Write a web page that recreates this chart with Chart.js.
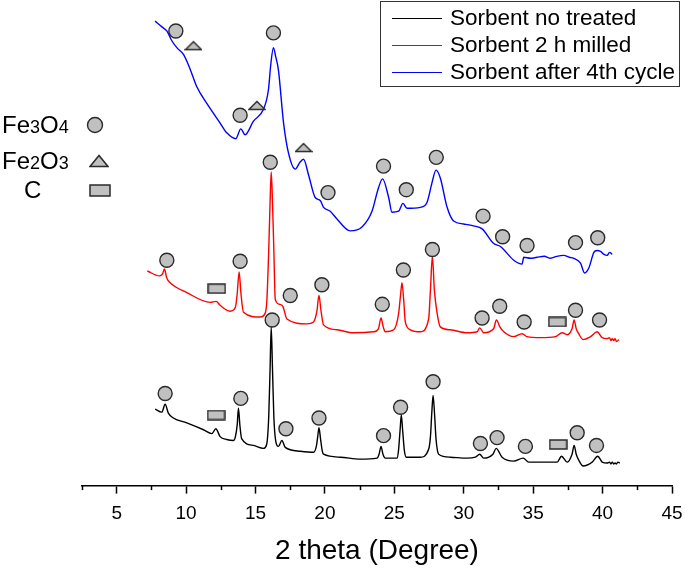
<!DOCTYPE html>
<html>
<head>
<meta charset="utf-8">
<script src="https://cdn.jsdelivr.net/npm/chart.js@4.4.1/dist/chart.umd.min.js"></script>
<style>
  body { margin: 0; background: #fff; font-family: "Liberation Sans", Arial, sans-serif; overflow: hidden; }
  #wrap { position: relative; width: 685px; height: 570px; }
  #xrd { display: block; }
  #legend {
    position: absolute; left: 380px; top: 1px; width: 300px; height: 86px;
    border: 1px solid #333; box-sizing: border-box;
  }
  #legend .row { position: absolute; left: 0; height: 26px; line-height: 26px; font-size: 22.5px; color: #000; white-space: nowrap; }
  #legend .row span.ln { position: absolute; left: 11px; top: 13px; width: 50px; height: 1px; }
  #legend .row span.tx { position: absolute; left: 69px; top: 0; }
  #phases { position: absolute; left: 2px; top: 108px; }
  #phases .ph { position: absolute; left: 0; white-space: nowrap; font-size: 24px; color: #000; height: 30px; line-height: 30px; }
  #phases .ph small { font-size: 18px; }
</style>
</head>
<body>
<div id="wrap">
  <canvas id="xrd" width="685" height="570"></canvas>
  <div id="legend">
    <div class="row" style="top:3px"><span class="ln" style="background:#000"></span><span class="tx">Sorbent no treated</span></div>
    <div class="row" style="top:30px"><span class="ln" style="background:#ff0000"></span><span class="tx">Sorbent 2 h milled</span></div>
    <div class="row" style="top:57px"><span class="ln" style="background:#0000ff"></span><span class="tx">Sorbent after 4th cycle</span></div>
  </div>
  <div id="phases">
    <div class="ph" style="top:2px">Fe<small>3</small>O<small>4</small></div>
    <div class="ph" style="top:38px">Fe<small>2</small>O<small>3</small></div>
    <div class="ph" style="top:67px; left:22px">C</div>
    <canvas id="keyCircle" width="18" height="18" style="position:absolute;left:84px;top:8px"></canvas>
    <canvas id="keyTri" width="20" height="14" style="position:absolute;left:87px;top:46px"></canvas>
    <canvas id="keyRect" width="22" height="13" style="position:absolute;left:87px;top:76px"></canvas>
  </div>
</div>
<script>
// 2 theta (deg) and intensity (a.u., curves stacked with an offset)
const untreatedTheta = [7.77, 8.25, 8.49, 8.72, 9.08, 10.05, 11.25, 11.85, 12.14, 12.45, 12.93, 13.41, 13.55, 13.68, 13.77, 13.87, 14.0, 14.85, 15.57, 15.80, 15.95, 16.05, 16.13, 16.22, 16.32, 16.45, 16.65, 16.90, 17.14, 18.22, 19.18, 19.38, 19.48, 19.57, 19.68, 19.80, 19.90, 21.10, 22.55, 23.75, 23.9, 24.04, 24.18, 24.35, 25.19, 25.3, 25.42, 25.50, 25.60, 25.72, 25.86, 26.87, 27.47, 27.6, 27.7, 27.79, 27.9, 28.0, 28.19, 29.03, 30.24, 30.84, 31.15, 31.43, 32.1, 32.33, 32.76, 33.60, 34.28, 34.68, 35.76, 36.73, 37.04, 37.45, 37.8, 37.95, 38.1, 38.28, 38.60, 39.25, 39.65, 39.97, 40.33, 40.5, 40.6, 40.7, 40.8, 40.9, 41.0, 41.1, 41.24];
const untreatedI = [78, 75, 83, 74, 69, 64, 57, 53, 58, 50, 47, 46, 50, 62, 79, 62, 48, 41, 38, 42, 70, 120, 162, 120, 70, 46, 40, 46, 39, 35, 34, 40, 50, 59, 48, 36, 32, 29, 27, 28, 32, 40, 32, 28, 28, 36, 58, 72, 56, 36, 29, 29, 37, 50, 75, 92, 72, 48, 32, 29, 28, 29, 32, 28, 32, 38, 29, 25, 28, 24, 24, 24, 30, 24, 32, 41, 32, 26, 20, 24, 30, 24, 23, 24, 22, 24, 22, 23, 22, 24, 23];

const milledTheta = [7.21, 8.07, 8.3, 8.44, 8.6, 8.85, 10.05, 11.73, 12.16, 12.45, 13.17, 13.55, 13.68, 13.82, 13.95, 14.13, 15.34, 15.70, 15.82, 15.95, 16.05, 16.13, 16.22, 16.32, 16.42, 16.73, 16.97, 17.26, 18.70, 19.18, 19.42, 19.57, 19.72, 19.90, 20.87, 22.06, 23.50, 23.85, 24.04, 24.2, 24.35, 24.95, 25.3, 25.45, 25.55, 25.67, 25.79, 26.15, 26.87, 27.47, 27.6, 27.74, 27.88, 28.07, 28.31, 29.03, 30.24, 30.96, 31.15, 31.43, 32.15, 32.35, 32.6, 32.88, 33.60, 34.20, 34.56, 35.52, 36.60, 37.09, 37.45, 37.8, 37.95, 38.1, 38.28, 38.60, 39.13, 39.61, 39.97, 40.33, 40.5, 40.6, 40.7, 40.8, 40.9, 41.0, 41.17];
const milledI = [219, 214, 216, 221, 212, 207, 197, 187, 188, 184, 178, 182, 196, 218, 196, 177, 172, 176, 190, 240, 290, 320, 290, 240, 190, 185, 183, 170, 165, 167, 178, 194, 178, 164, 159, 156, 157, 160, 171, 162, 157, 159, 175, 195, 207, 190, 167, 159, 157, 170, 200, 234, 200, 177, 162, 159, 156, 157, 161, 156, 160, 169, 162, 157, 152, 155, 152, 151, 152, 156, 154, 160, 169, 160, 155, 149, 152, 157, 151, 150, 151, 148, 150, 148, 150, 147, 149];

const cycledTheta = [7.77, 8.10, 8.36, 8.61, 8.97, 9.33, 9.81, 10.29, 10.77, 11.49, 12.45, 12.93, 13.58, 13.94, 14.25, 14.85, 15.57, 15.93, 16.10, 16.29, 16.45, 16.65, 17.02, 17.38, 17.86, 18.20, 18.46, 18.82, 19.30, 19.66, 19.90, 20.38, 20.87, 21.82, 22.67, 23.39, 23.86, 24.15, 24.59, 24.83, 25.31, 25.62, 25.91, 26.87, 27.35, 27.71, 28.00, 28.31, 28.80, 29.27, 29.99, 30.71, 31.32, 32.16, 32.64, 33.60, 34.20, 34.32, 34.8, 35.28, 35.8, 36.25, 36.7, 37.20, 37.6, 37.92, 38.41, 38.70, 39.01, 39.37, 39.6, 39.85, 40.1, 40.33, 40.5, 40.69];
const cycledI = [474, 470, 467, 464, 454, 447, 440, 425, 407, 390, 370, 360, 354, 364, 358, 372, 384, 404, 430, 447, 438, 424, 370, 339, 323, 330, 333, 317, 294, 291, 284, 280, 272, 260, 264, 280, 304, 313, 294, 279, 280, 288, 283, 284, 289, 309, 322, 314, 284, 270, 267, 265, 262, 247, 244, 230, 226, 233, 232, 233, 234, 232, 234, 235, 233, 232, 227, 217, 222, 238, 240, 239, 236, 235, 238, 236];

// phase marks placed above the peaks
const fe3o4Theta = [8.49, 13.94, 16.20, 17.19, 19.57, 24.22, 25.45, 27.79, 31.20, 32.40, 34.44, 38.17, 39.56,
  8.61, 13.89, 16.06, 17.50, 19.78, 24.13, 25.65, 27.74, 31.32, 32.59, 34.35, 38.05, 39.78,
  9.26, 13.89, 16.29, 20.22, 24.22, 25.86, 28.02, 31.39, 32.80, 34.56, 38.05, 39.65];
const fe3o4Level = [94, 89, 169, 58, 69, 51, 80, 106, 43, 49, 40, 54, 41,
  230, 229, 330, 194, 205, 185, 220, 241, 171, 183, 167, 179, 169,
  464, 378, 462, 299, 326, 302, 335, 275, 254, 245, 248, 253];
const fe2o3Theta = [10.53, 15.10, 18.46];
const fe2o3Level = [449, 388, 345];
const carbonTheta = [12.16, 36.80, 12.21, 36.73];
const carbonLevel = [72, 42, 201, 167];

const xTicks = [5, 10, 15, 20, 25, 30, 35, 40, 45];
const xMinorTicks = [2.5, 7.5, 12.5, 17.5, 22.5, 27.5, 32.5, 37.5, 42.5];

const markFill = '#c0c0c0';
const markEdge = '#2a2a2a';

const zip = (xs, ys) => xs.map((x, i) => ({ x: x, y: ys[i] }));

const makeTriangle = (c) => {
  const g = c.getContext('2d');
  g.beginPath();
  g.moveTo(1, c.height - 1.5);
  g.lineTo(c.width / 2, 1.5);
  g.lineTo(c.width - 1, c.height - 1.5);
  g.closePath();
  g.fillStyle = markFill; g.fill();
  g.lineWidth = 1.5; g.strokeStyle = markEdge; g.stroke();
  return c;
};
const makeRect = (c) => {
  const g = c.getContext('2d');
  g.fillStyle = markFill;
  g.fillRect(1, 1, c.width - 2, c.height - 2);
  g.lineWidth = 1.5; g.strokeStyle = markEdge;
  g.strokeRect(1, 1, c.width - 2, c.height - 2);
  return c;
};
const makeCircle = (c) => {
  const g = c.getContext('2d');
  g.beginPath();
  g.arc(c.width / 2, c.height / 2, c.width / 2 - 1.5, 0, Math.PI * 2);
  g.fillStyle = markFill; g.fill();
  g.lineWidth = 1.4; g.strokeStyle = markEdge; g.stroke();
  return c;
};

const newCanvas = (w, h) => { const c = document.createElement('canvas'); c.width = w; c.height = h; return c; };
const triStyle = makeTriangle(newCanvas(18, 11));
const rectStyle = makeRect(newCanvas(19, 11));

// key icons on the left
makeCircle(document.getElementById('keyCircle'));
makeTriangle(document.getElementById('keyTri'));
makeRect(document.getElementById('keyRect'));

const curve = (label, data, color) => ({
  type: 'line', label: label, data: data, borderColor: color, borderWidth: 1.4,
  pointRadius: 0, cubicInterpolationMode: 'monotone', fill: false, order: 2
});

// short minor ticks between the labelled ones
const minorTicks = {
  id: 'minorTicks',
  afterDraw(chart) {
    const sx = chart.scales.x;
    const ctx = chart.ctx;
    ctx.save();
    ctx.strokeStyle = '#000';
    ctx.lineWidth = 1.5;
    xMinorTicks.forEach((v) => {
      const px = Math.round(sx.getPixelForValue(v)) + 0.5;
      ctx.beginPath();
      ctx.moveTo(px, sx.top);
      ctx.lineTo(px, sx.top + 4.5);
      ctx.stroke();
    });
    ctx.restore();
  }
};

new Chart(document.getElementById('xrd'), {
  type: 'scatter',
  data: {
    datasets: [
      curve('Sorbent no treated', zip(untreatedTheta, untreatedI), '#000000'),
      curve('Sorbent 2 h milled', zip(milledTheta, milledI), '#ff0000'),
      curve('Sorbent after 4th cycle', zip(cycledTheta, cycledI), '#0000ff'),
      { label: 'Fe3O4', data: zip(fe3o4Theta, fe3o4Level), pointStyle: 'circle', pointRadius: 7,
        backgroundColor: markFill, borderColor: markEdge, borderWidth: 1.4, order: 1 },
      { label: 'Fe2O3', data: zip(fe2o3Theta, fe2o3Level), pointStyle: triStyle, order: 1 },
      { label: 'C', data: zip(carbonTheta, carbonLevel), pointStyle: rectStyle, order: 1 }
    ]
  },
  options: {
    responsive: false,
    animation: false,
    layout: { padding: { left: 82, right: 13, top: 0, bottom: 0 } },
    plugins: { legend: { display: false }, tooltip: { enabled: false } },
    scales: {
      x: {
        type: 'linear', min: 2.5, max: 45,
        afterBuildTicks: (axis) => { axis.ticks = xTicks.map((v) => ({ value: v })); },
        // the layout padding already leaves room for the "45" label
        afterFit: (axis) => { axis.paddingLeft = 0; axis.paddingRight = 0; },
        grid: { drawOnChartArea: false, drawTicks: true, tickLength: 8, tickWidth: 1.5, tickColor: '#000' },
        border: { display: true, color: '#000', width: 1.5 },
        ticks: { color: '#000', padding: 9, font: { family: 'Liberation Sans', size: 19 }, maxRotation: 0 },
        title: { display: true, text: '2 theta (Degree)', color: '#000', padding: { top: 0, bottom: 2 },
          font: { family: 'Liberation Sans', size: 28 } }
      },
      y: { display: false, min: 0, max: 487 }
    }
  },
  plugins: [minorTicks]
});
</script>
</body>
</html>
